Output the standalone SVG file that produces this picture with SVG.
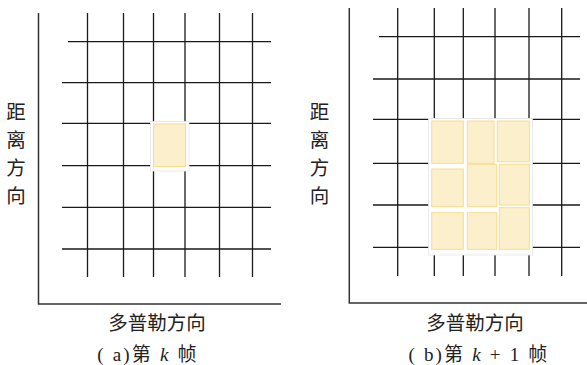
<svg xmlns="http://www.w3.org/2000/svg" width="587" height="365" viewBox="0 0 587 365">
<style>
.ax{stroke:#333;stroke-width:1.5;fill:none}
.g{stroke:#1a1a1a;stroke-width:1.3;fill:none}
.bg{fill:#fff;stroke:#e6e6e6;stroke-width:0.8}
.cell{fill:#fcf0cc;stroke:#f5dc90;stroke-width:1}
.lbl{font-family:"Liberation Serif","Noto Sans CJK SC",serif;font-size:19.5px;fill:#222}
.cap{font-family:"Liberation Serif","Noto Sans CJK SC",serif;font-size:19px;fill:#222;letter-spacing:2.2px}
</style>
<rect width="587" height="365" fill="#fff"/>
<g id="panel-a">
  <g id="axes-a">
    <path class="ax" d="M38.5,13 V304 H281"/>
  </g>
  <g id="grid-a">
    <path class="g" d="M87.5,13V277 M123.5,13V277 M153.5,13V277 M185,13V277 M219.5,13V277 M252.5,13V277"/>
    <path class="g" d="M68,41.7H271 M62,82.7H271 M62,123.3H271 M62,165.7H271 M62,207.3H271 M62,249H271"/>
  </g>
  <g id="cell-a">
    <rect class="bg" x="150.5" y="121.5" width="38.5" height="49.5"/>
    <rect class="cell" x="153.5" y="124" width="32" height="42.5"/>
  </g>
  <text class="lbl" text-anchor="middle"><tspan x="16" y="119">距</tspan><tspan x="16" y="147">离</tspan><tspan x="16" y="175">方</tspan><tspan x="16" y="203">向</tspan></text>
  <text class="lbl" x="157" y="330" text-anchor="middle">多普勒方向</text>
  <text class="cap" x="148" y="361" text-anchor="middle">( a)第 <tspan font-style="italic">k</tspan> 帧</text>
</g>
<g id="panel-b">
  <g id="axes-b">
    <path class="ax" d="M349.3,8 V303 H587"/>
  </g>
  <g id="grid-b">
    <path class="g" d="M397.7,8V276 M434.3,8V276 M463.3,8V276 M495,8V276 M529,8V276 M561.7,8V276"/>
    <path class="g" d="M379,36.7H580 M373,79H580 M373,119.3H580 M373,163.3H580 M373,205H580 M373,247.3H580"/>
  </g>
  <g id="cells-b">
    <rect class="bg" x="428.5" y="118.5" width="104" height="136.5"/>
    <rect class="cell" x="431.7" y="121" width="31.6" height="42.3"/>
    <rect class="cell" x="467.3" y="121" width="26.7" height="42.3"/>
    <rect class="cell" x="497.3" y="121" width="32" height="40.7"/>
    <rect class="cell" x="431.7" y="169" width="31.6" height="37.7"/>
    <rect class="cell" x="467.3" y="164.3" width="29.4" height="42.4"/>
    <rect class="cell" x="499.3" y="164.3" width="30" height="40.7"/>
    <rect class="cell" x="431.7" y="212.7" width="31.6" height="36.6"/>
    <rect class="cell" x="467.3" y="212.7" width="29.4" height="36.6"/>
    <rect class="cell" x="499.3" y="207.7" width="30" height="41.6"/>
  </g>
  <text class="lbl" text-anchor="middle"><tspan x="319.5" y="119">距</tspan><tspan x="319.5" y="147">离</tspan><tspan x="319.5" y="175">方</tspan><tspan x="319.5" y="203">向</tspan></text>
  <text class="lbl" x="475" y="330" text-anchor="middle">多普勒方向</text>
  <text class="cap" x="479" y="361" text-anchor="middle">( b)第 <tspan font-style="italic">k</tspan> + 1 帧</text>
</g>
</svg>
